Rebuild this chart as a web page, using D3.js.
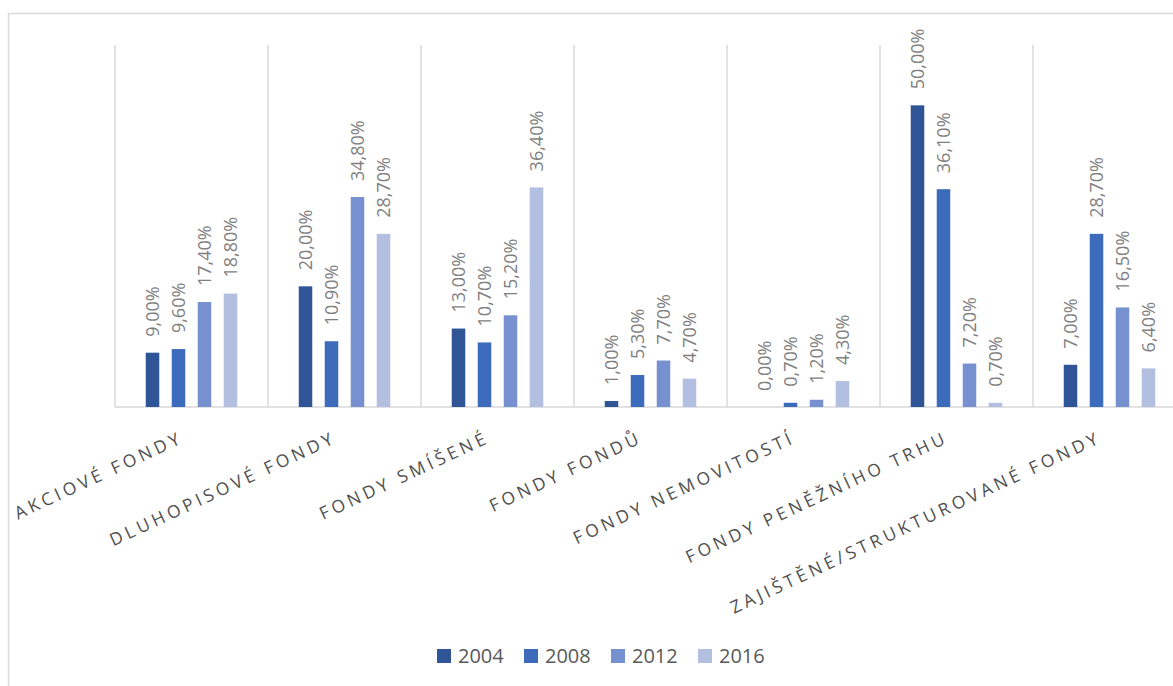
<!DOCTYPE html>
<html>
<head>
<meta charset="utf-8">
<script src="https://cdn.jsdelivr.net/npm/d3@7"></script>
<style>
  html, body { margin: 0; padding: 0; background: #ffffff; }
  svg { display: block; }
</style>
</head>
<body>
<svg id="chart" width="1173" height="686"></svg>
<script>
// Fund categories and yearly shares (%)
const categories = [
  "AKCIOVÉ FONDY",
  "DLUHOPISOVÉ FONDY",
  "FONDY SMÍŠENÉ",
  "FONDY FONDŮ",
  "FONDY NEMOVITOSTÍ",
  "FONDY PENĚŽNÍHO TRHU",
  "ZAJIŠTĚNÉ/STRUKTUROVANÉ FONDY"
];
const years = ["2004", "2008", "2012", "2016"];
const values2004 = [9.0, 20.0, 13.0, 1.0, 0.0, 50.0, 7.0];
const values2008 = [9.6, 10.9, 10.7, 5.3, 0.7, 36.1, 28.7];
const values2012 = [17.4, 34.8, 15.2, 7.7, 1.2, 7.2, 16.5];
const values2016 = [18.8, 28.7, 36.4, 4.7, 4.3, 0.7, 6.4];
const seriesColors = ["#2f5597", "#3d6bbb", "#7791d0", "#b3bfe0"];

const series = [values2004, values2008, values2012, values2016];
const rows = categories.map((c, i) => ({
  category: c,
  values: years.map((y, j) => ({ year: y, value: series[j][i] }))
}));

const svg = d3.select("#chart");
const fontFamily = "'Open Sans', 'DejaVu Sans', sans-serif";

// Outer chart frame
svg.append("rect")
  .attr("x", 8.5).attr("y", 13.5)
  .attr("width", 1300).attr("height", 800)
  .attr("fill", "none")
  .attr("stroke", "#d9d9d9")
  .attr("stroke-width", 1.5);

const plotLeft = 115, step = 153;
const x0 = d3.scaleBand()
  .domain(categories.concat(["__end"]))
  .range([plotLeft, plotLeft + step * 8])
  .padding(0);

const x1 = d3.scaleBand()
  .domain(years)
  .range([24.5, 128.5])
  .paddingInner(0.48)
  .paddingOuter(0.24);

const y = d3.scaleLinear().domain([0, 60]).range([407, 45]);

const color = d3.scaleOrdinal().domain(years).range(seriesColors);

// Vertical category separators
const gridX = categories.map(c => x0(c)).concat([x0("__end")]);
svg.append("g")
  .selectAll("line")
  .data(gridX)
  .join("line")
  .attr("x1", d => d).attr("x2", d => d)
  .attr("y1", y(60)).attr("y2", y(0))
  .attr("stroke", "#d9d9d9")
  .attr("stroke-width", 1.5);

// Category axis line
svg.append("line")
  .attr("x1", plotLeft).attr("x2", 1300)
  .attr("y1", y(0)).attr("y2", y(0))
  .attr("stroke", "#d9d9d9")
  .attr("stroke-width", 1.5);

// Bars
const groups = svg.append("g")
  .selectAll("g")
  .data(rows)
  .join("g")
  .attr("transform", d => `translate(${x0(d.category)},0)`);

groups.selectAll("rect")
  .data(d => d.values)
  .join("rect")
  .attr("x", d => x1(d.year))
  .attr("y", d => y(d.value))
  .attr("width", x1.bandwidth())
  .attr("height", d => y(0) - y(d.value))
  .attr("fill", d => color(d.year));

// Value labels, rotated
const fmt = v => v.toFixed(2).replace(".", ",") + "%";
groups.selectAll("text")
  .data(d => d.values)
  .join("text")
  .attr("transform", d => `translate(${x1(d.year) + x1.bandwidth() / 2},${y(d.value) - 16}) rotate(-90)`)
  .attr("dy", "0.35em")
  .attr("text-anchor", "start")
  .attr("font-family", fontFamily)
  .attr("font-size", 18)
  .attr("fill", "#7f7f7f")
  .text(d => fmt(d.value));

// Category labels
svg.append("g")
  .selectAll("text")
  .data(categories)
  .join("text")
  .attr("transform", d => `translate(${x0(d) + step / 2 - 7},442) rotate(-25)`)
  .attr("text-anchor", "end")
  .attr("font-family", fontFamily)
  .attr("font-size", 17.5)
  .attr("letter-spacing", 3.8)
  .attr("fill", "#505050")
  .text(d => d);

// Legend
const legend = svg.append("g")
  .selectAll("g")
  .data(years)
  .join("g")
  .attr("transform", (d, i) => `translate(${437 + i * 87},649)`);

legend.append("rect")
  .attr("width", 14).attr("height", 14)
  .attr("fill", d => color(d));

legend.append("text")
  .attr("x", 21).attr("y", 7)
  .attr("dy", "0.36em")
  .attr("font-family", fontFamily)
  .attr("font-size", 20)
  .attr("fill", "#595959")
  .text(d => d);
</script>
</body>
</html>
